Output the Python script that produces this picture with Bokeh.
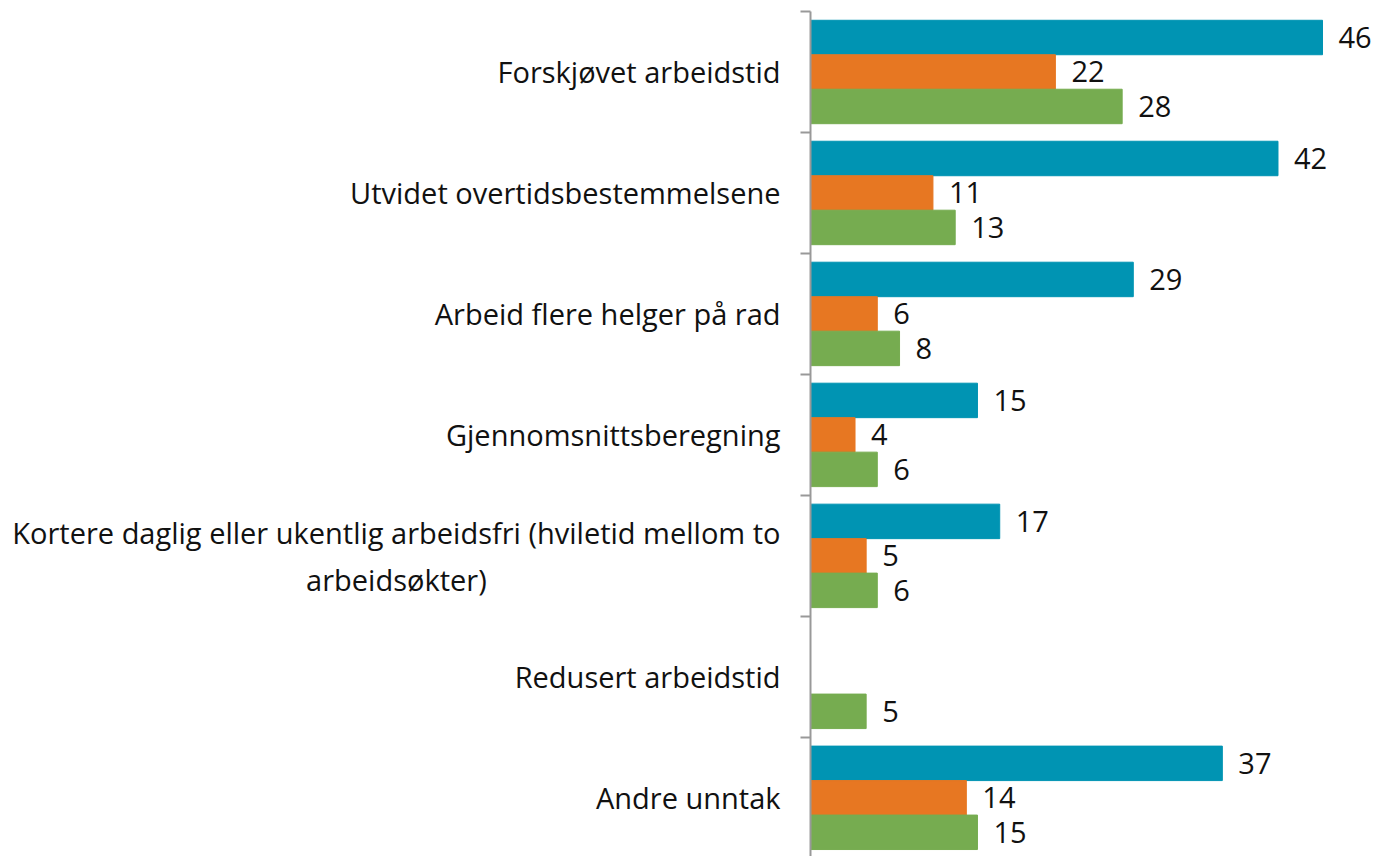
from bokeh.plotting import figure
from bokeh.models import ColumnDataSource, Range1d, FixedTicker
from bokeh.core.properties import value
from bokeh.embed import file_html
from bokeh.resources import INLINE

NB = "\u00a0"
categories = [
    "Forskjøvet arbeidstid",
    "Utvidet overtidsbestemmelsene",
    "Arbeid flere helger på rad",
    "Gjennomsnittsberegning",
    "Kortere daglig eller ukentlig arbeidsfri (hviletid mellom to\narbeidsøkter)" + NB * 39,
    "Redusert arbeidstid",
    "Andre unntak",
]
series_a = [46, 42, 29, 15, 17, None, 37]
series_b = [22, 11, 6, 4, 5, None, 14]
series_c = [28, 13, 8, 6, 6, 5, 15]
colors = ["#0094B3", "#E77722", "#76AC50"]

FONT = "Open Sans"
FS = "29px"

p = figure(width=1377, height=856, output_backend="svg", toolbar_location=None,
           x_range=Range1d(0, 50.94), y_range=Range1d(6.985, 0),
           min_border_left=810, min_border_right=0, min_border_top=11, min_border_bottom=0)
p.outline_line_color = None
p.xgrid.visible = False
p.ygrid.visible = False
p.xaxis.visible = False

bar_h = 0.285
offsets = [-bar_h, 0.0, bar_h]
for vals, off, col in zip([series_a, series_b, series_c], offsets, colors):
    ys, xs, labels = [], [], []
    for i, v in enumerate(vals):
        if v is None:
            continue
        ys.append(i + 0.5 + off)
        xs.append(v)
        labels.append(str(v))
    src = ColumnDataSource(dict(y=ys, right=xs, label=labels))
    p.hbar(y="y", left=0, right="right", height=bar_h, source=src,
           fill_color=col, line_color=col, line_width=1)
    p.text(x="right", y="y", text="label", source=src, x_offset=16,
           text_baseline="middle", text_align="left",
           text_font=value(FONT), text_font_size=FS, text_color="#111111")

ax = p.yaxis[0]
centers = [i + 0.5 for i in range(len(categories))]
bounds = [float(i) for i in range(len(categories) + 1)]
ax.ticker = FixedTicker(ticks=centers, minor_ticks=bounds)
ax.major_label_overrides = {c: lab for c, lab in zip(centers, categories)}
ax.major_tick_out = 0
ax.major_tick_in = 0
ax.minor_tick_out = 10
ax.minor_tick_in = 0
ax.minor_tick_line_color = "#999999"
ax.minor_tick_line_width = 2
ax.axis_line_color = "#999999"
ax.axis_line_width = 2
ax.major_label_standoff = 20
ax.major_label_text_font = FONT
ax.major_label_text_font_size = FS
ax.major_label_text_color = "#111111"

open("out.html", "w").write(file_html(p, INLINE))
